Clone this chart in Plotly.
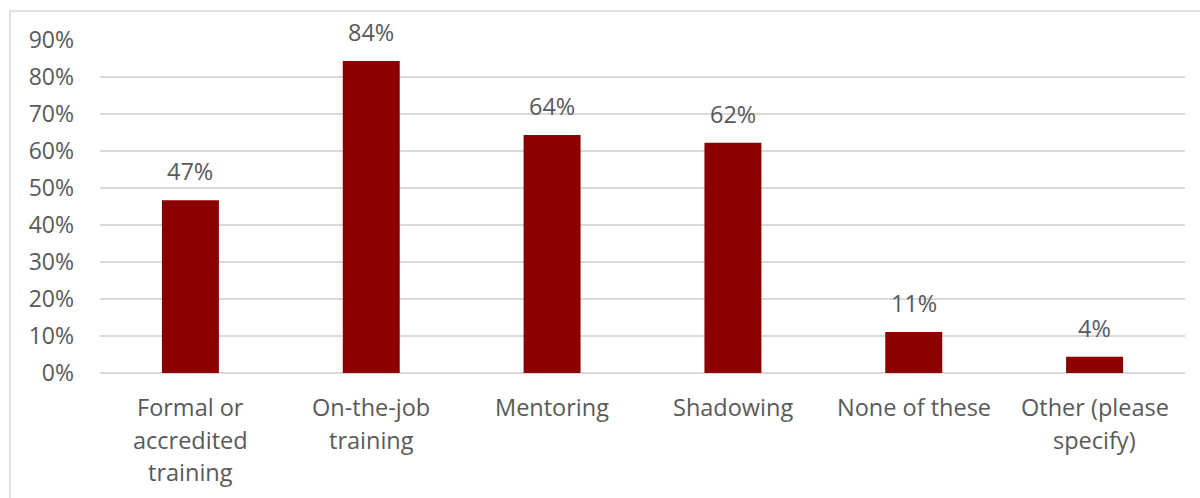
import plotly.graph_objects as go

# Share of respondents using each training method
categories = [
    "Formal or<br>accredited<br>training",
    "On-the-job<br>training",
    "Mentoring",
    "Shadowing",
    "None of these",
    "Other (please<br>specify)",
]
shares = [0.467, 0.843, 0.643, 0.622, 0.111, 0.044]
y_ticks = [0, 0.1, 0.2, 0.3, 0.4, 0.5, 0.6, 0.7, 0.8, 0.9]
y_tick_labels = ["0%", "10%", "20%", "30%", "40%", "50%", "60%", "70%", "80%", "90%"]
chart_title = "Figure 6: Training methods used"

BAR = "#8b0000"
TEXT = "#595959"
GRID = "#d9d9d9"
FONT = "Open Sans"

x_pos = list(range(len(categories)))

fig = go.Figure(
    go.Bar(
        x=x_pos,
        y=shares,
        width=0.315,
        marker=dict(color=BAR, line=dict(width=0)),
        hoverinfo="skip",
    )
)

annotations = []
# value labels above the bars
for xi, v in zip(x_pos, shares):
    annotations.append(dict(
        x=xi, y=v, xref="x", yref="y", text=f"{v:.0%}", showarrow=False,
        yanchor="bottom", yshift=11, font=dict(family=FONT, size=23.5, color=TEXT),
    ))
# category labels, one annotation per line for wider line spacing
for xi, cat in zip(x_pos, categories):
    for li, line in enumerate(cat.split("<br>")):
        annotations.append(dict(
            x=xi, y=0, xref="x", yref="paper", text=line, showarrow=False,
            yanchor="middle", yshift=-34 - 32.5 * li,
            font=dict(family=FONT, size=23.5, color=TEXT),
        ))
# chart title, sitting at the very top edge
annotations.append(dict(
    x=-0.085, y=1.12, xref="paper", yref="paper", text=f"<b>{chart_title}</b>",
    showarrow=False, xanchor="left", yanchor="bottom", yshift=-2,
    font=dict(family=FONT, size=24, color="#000000"),
))

fig.update_layout(
    width=1200, height=498,
    margin=dict(l=100, r=15, t=40, b=125),
    paper_bgcolor="white", plot_bgcolor="white",
    showlegend=False,
    bargap=0.685,
    font=dict(family=FONT, color=TEXT),
    xaxis=dict(
        range=[-0.5, len(categories) - 0.5],
        showticklabels=False, showgrid=False, zeroline=False,
        showline=False, ticks="", fixedrange=True,
    ),
    yaxis=dict(
        range=[0, 0.9], tickvals=y_ticks, ticktext=y_tick_labels,
        showgrid=True, gridcolor=GRID, gridwidth=1.5,
        zeroline=True, zerolinecolor=GRID, zerolinewidth=1.5,
        showline=False, ticks="", ticklabelstandoff=25,
        tickfont=dict(family=FONT, size=23, color=TEXT), fixedrange=True,
    ),
    annotations=annotations,
    shapes=[dict(
        type="rect", xref="paper", yref="paper",
        x0=-90 / 1085, x1=1120 / 1085, y0=-140 / 333, y1=362 / 333,
        line=dict(color=GRID, width=1.5), fillcolor="rgba(0,0,0,0)", layer="below",
    )],
)

fig.update_traces(cliponaxis=False)

fig.write_html("out.html", config=dict(displayModeBar=False))
